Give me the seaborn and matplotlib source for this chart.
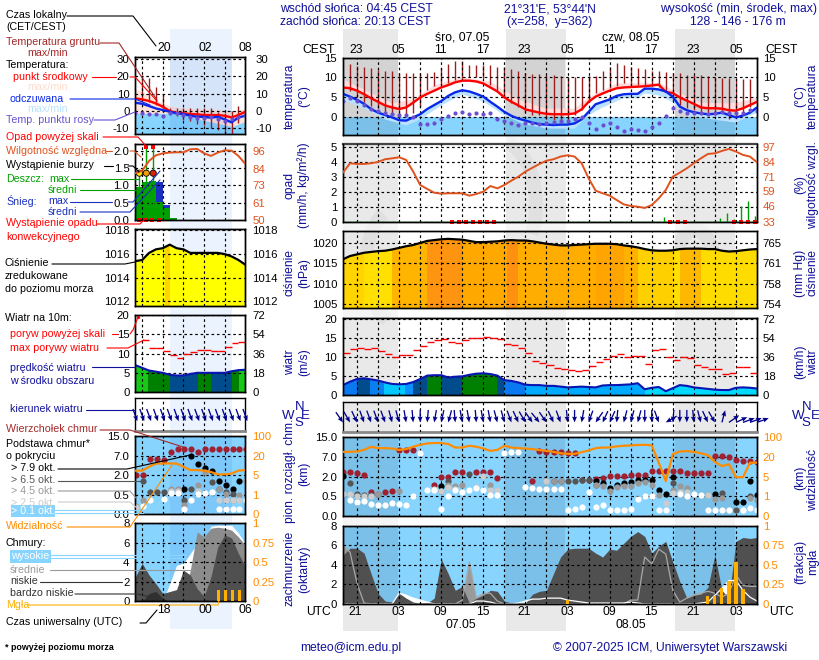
import numpy as np
import matplotlib
matplotlib.use('Agg')
import matplotlib.pyplot as plt
from matplotlib.lines import Line2D
from matplotlib.patches import Rectangle, Arc
import seaborn as sns

W, H = 820, 660
sns.set_theme(style='white', rc={'axes.edgecolor': 'black', 'axes.linewidth': 1.0,
                                 'grid.color': 'black', 'grid.linewidth': 0.8,
                                 'xtick.labelsize': 8.2, 'ytick.labelsize': 8.2})
plt.rcParams['font.family'] = ['Liberation Sans', 'DejaVu Sans']

# ---------- main meteogram data (hourly, hours since 06.05 00 UTC) ----------
hours = np.arange(19, 79)
t_mid = [7.5,7.3,6.7,5.8,4.8,3.9,3.0,2.5,2.1,2.5,3.7,5.0,5.9,6.7,7.5,8.1,8.8,9.2,9.2,9.0,8.5,7.5,6.5,5.0,3.9,3.0,2.0,1.6,1.2,0.9,
         0.8,0.8,0.8,1.0,2.0,3.9,5.2,6.0,6.7,7.3,7.5,7.6,7.7,7.8,8.0,8.2,6.4,6.1,5.0,4.2,3.4,2.5,2.3,2.3,2.2,1.8,1.7,2.3,3.1,3.9]
t_app = [5.9,5.2,4.4,3.4,2.1,1.2,0.6,0.0,-0.7,-0.8,0.0,0.8,2.1,3.1,4.1,5.4,6.3,6.8,6.5,5.9,5.2,3.9,2.7,1.4,0.4,-0.3,-0.8,-1.3,-1.7,-1.8,
         -1.9,-1.8,-1.8,-1.5,-0.5,1.4,3.3,3.9,4.5,5.4,5.8,5.9,5.9,7.2,7.2,7.0,6.5,5.2,2.7,1.8,1.3,1.0,0.8,0.9,1.2,0.6,0.0,0.5,1.2,2.5]
t_dew = [4.2,4.8,4.1,3.1,2.1,1.6,1.0,0.8,0.6,0.6,0.0,-1.6,-1.6,-1.3,-0.4,0.3,1.2,1.4,0.8,1.0,0.8,1.2,-0.4,-0.9,-1.5,-1.8,-1.3,-1.3,-1.6,-1.3,
         -1.1,-0.8,-0.8,-0.4,0.2,-1.3,-2.8,-1.9,-1.5,-2.4,-3.4,-2.8,-3.2,-3.4,-2.5,-1.3,0.4,2.3,1.5,1.2,1.2,1.0,0.8,1.0,1.4,1.2,1.0,1.2,1.8,1.7]
soil_hours = np.arange(20, 78)
soil_max = [13.4,12.9,12.7,12.3,11.9,11.7,11.5,11.2,11.1,11.1,11.1,11.1,11.3,12.3,13.4,14,14,13.2,13,13,13,12.7,12.5,12.1,11.7,11.2,10.9,10.8,10.6,10.5,
            10.4,10.2,10.1,10.1,10.4,10.4,11.5,12.7,13.7,13.1,12.7,12.3,12.1,11.7,11.6,11.3,11.1,11,10.7,10.6,10.5,10.4,10.1,9.9,9.8,9.8,9.6,9.6]
soil_min = [6.5,5.2,3.9,2.9,2.3,1.4,1,.6,.6,1,2.7,6.9,7.9,8.1,8.5,9.4,9.8,10.2,10.2,9.8,8.1,6.9,5.2,3.5,2.7,1.4,.6,.6,-.3,-.7,
            -1.1,-1.1,.6,1.8,3.9,6,6.9,7.3,7.9,8.5,7.9,8.1,8.1,7.9,7.5,6.5,4.4,3.1,2.3,1.8,1.4,.6,.6,1,-.3,.2,1.4,2.7]
pink_hours = [19,22,26,29,32,36,40,44,48,52,54,58,62,64,67,70,74,76,78]
pink_top = [9.5,7,3.5,4.5,8,10,9,4.5,2.2,2.2,5,8.5,8.6,8.6,6,3.7,3.5,4,5]
pale_hours = [19,22,25,28,30,33,36,39,42,45,48,52,54,56,59,61,62,64,66,68,72,75,78]
pale_low = [4.5,2.2,-.5,-2,-.5,3,5.8,4,.5,-1.8,-2.8,-2.8,.5,2.5,4.8,4.8,6,5.5,3.8,.5,-.6,-1.3,1.2]

rh_main = [74.8,82.8,82.2,82.2,82.8,83.9,86.2,87,87.9,85.6,75.7,64.3,60.9,57.7,56.9,57.2,57.2,57.2,55.2,56.6,58.6,63.4,61.4,64.3,68,71.4,75.7,79,82.2,85,
           86.2,88.5,89.6,88.5,82.8,70,59.4,57.2,55.2,51.5,47.8,46.4,45.8,44.7,47.2,52.9,60,71.4,74.8,78.5,82.8,87,90.7,91.3,93.3,95,92.7,89.9,88.5,83.6]
conv_hours = [34.6,35.5,36.5,37.5,38.5,39.5,40.5,65.6,66.7,67.7,74.7,75.7,76.7,77.7]
rain_hours = [64.7,65.7,72.7,73.7,74.7,75.7,76.7,77.7]
rain_max = [.28,.1,.27,.55,.2,1.07,1.4,.37]

press_main = [1016,1016.8,1017.2,1017.6,1017.8,1018,1018.1,1018.4,1018.8,1019.2,1019.5,1020,1020.5,1020.7,1020.9,1021,1020.9,1020.8,1020.5,1020.2,1020.2,1020.3,1020.4,1020.6,1020.7,1020.6,1020.6,1020.4,1020.1,1019.8,
              1019.6,1019.4,1019.4,1019.5,1019.6,1019.7,1019.8,1019.8,1019.8,1019.7,1019.4,1019.2,1018.9,1018.5,1018.2,1018.1,1018.1,1018.2,1018.5,1018.6,1018.6,1018.6,1018.5,1018.5,1018.1,1017.9,1018,1018.2,1018.4,1018.5]
press_edges = [19,22,26,31,36,42.4,44,55,59,61,66,67,70,78]
press_colors = ['#FFD400','#FFE000','#FFB400','#FF9410','#FFA800','#FF9010','#FFAD00','#FFA400','#FFB000','#FFD000','#FFE000','#FFB800','#FFDC00']

wind_main = [2.6,3.5,4.2,4.4,4.1,3.8,3.3,2.9,2.8,2.9,3.4,4.2,5.1,5.2,5.2,4.6,4.8,4.9,5.3,5.6,5.7,5.5,5.1,3.9,3.7,3.3,2.7,2.6,2.6,2.4,
             2.4,2.2,2,2.1,2.2,2.1,2,2.5,2.6,2.6,2.7,2.8,3.1,1.5,1.9,2.1,1,1.8,2.6,2.4,2,1.8,1.6,1.4,1.3,1.3,1.9,2,1.9,1.7]
gust_main = [11,12.2,12.3,12.1,12.3,11.5,10.8,10,10.5,10.5,11.8,12.9,13.9,14.4,14.7,14,13.7,14.4,14.9,15,15.2,14.9,14.8,13.5,13.1,12.4,11.1,9,8.5,7.8,
             7,6.9,6.5,6.3,6.5,7.6,8.7,9.4,10.3,10.7,10,10.2,10.2,8.2,11.8,12.2,10,9.3,10,9.7,7.8,7.3,6.8,6.8,5.6,5.8,7.4,7.4,5.8]
wind_edges = [19,21,22.9,24.9,27.9,29,31,33,36,41,42,45,62,78]
wind_colors = ['#0A78F0','#004C8C','#0A80F0','#00C8FF','#0A90FF','#004C8C','#008000','#004C8C','#008000','#004C8C','#0A78F0','#00AAFF','#00D8FF']
wind_dir = [325,330,335,340,340,340,340,345,345,350,355,0,5,10,12,15,355,350,350,355,350,350,345,345,340,335,330,325,320,325,
            335,340,355,0,10,20,35,25,25,5,15,15,15,0,0,340,60,5,0,0,355,345,335,330,195,235,245,250,250,250]

base_ticks = [0, 1, 2, 3, 4]
base_labels = ['0.0', '0.5', '2.0', '7.0', '15.0']
vis_labels = ['0', '1', '5', '20', '100']
top_h = [19,20,21,22,23,25,26,27,28,29,32,33,34,35,36,38,39,40,41,46,47,48,49,50,51,52,53,54,55,56,57,58,59,60,61,62,63,64,65,66,67,68,69,70,71,72,73,74,75,76,77,78]
top_v = [2.25,2.25,2.21,2.06,1.22,1.22,1.27,3.33,3.35,3.35,1.6,2.0,1.97,2.25,2.25,2.25,2.25,2.25,1.94,1.77,3.28,3.24,3.26,3.26,3.21,3.18,1.82,1.82,1.89,1.94,2.03,2.03,2.03,2.06,2.08,2.09,2.28,2.28,2.28,2.3,2.3,2.18,2.21,2.18,2.18,3.07,3.07,2.99,2.87,2.8,2.8,2.75]
c79_h = [19,33,55,56,57,58,59,60,61,62,63,64,65,66,72,75,76,77,78]
c79_v = [2.03,1.55,1.77,1.67,1.44,1.6,1.68,1.72,1.85,1.85,1.85,1.34,1.12,1.97,1.12,.72,.72,1.8,1.05]
c65_h = [20,21,22,23,24,34,37,49,50,51,52,53,54,55,66,73,77,75]
c65_v = [1.68,1.13,1.08,1.05,1.13,1.8,2.11,1.77,1.77,1.77,1.77,1.82,1.82,1.6,1.68,1.15,1.0,.29]
c45_h = [24,27,33,34,35,36,40,48,49,50,55,56,57,58,59,60,61,62,63,64,66,67,68,72,73,71,77,78]
c45_v = [1.13,1.25,1.29,1.6,1.51,1.56,1.58,1.77,1.77,1.77,1.6,1.51,1.29,1.48,1.55,1.55,1.68,1.72,1.6,1.08,1.34,1.51,1.42,.86,.91,1.05,.91,.82]
c25_h = [19,20,21,22,23,32,33,34,35,38,39,40,41,48,65,66,67,68,71,74,76]
c25_v = [1.12,1.1,1.03,1.03,1,1.37,1.25,1.48,1.37,1.48,2.03,1.3,1.3,1.77,.65,1.17,1.22,1.22,1.05,.29,.31]
c01_h = [20,21,22,23,24,25,26,27,28,29,30,31,32,33,34,35,36,37,38,39,40,41,42,43,44,45,46,47,48,49,50,51,52,53,54,55,56,57,58,59,60,61,62,63,64,65,67,68,69,70,71,72,73,74,76,77,78]
c01_v = [.79,.7,.74,.6,.58,.57,.65,.62,.57,1,3.19,1.3,1.3,.34,1.03,1.34,1.2,1.3,1.41,1.3,1.05,1.05,3.19,3.23,3.23,1.46,1.41,1.36,1.36,1.36,1.36,.31,.38,.48,1.2,.45,.55,.29,.29,.33,.36,.88,1,1,.31,.31,1.1,1.03,1.13,1.08,.31,.31,.31,.31,.31,.39,.31]
vis_main = [3.26,3.26,3.28,3.36,3.52,3.45,3.45,3.43,3.36,3.4,3.52,3.62,3.69,3.71,3.71,3.66,3.48,3.48,3.57,3.52,3.43,3.31,3.36,3.57,3.48,3.45,3.43,3.4,3.35,3.31,
            3.26,3.19,3.16,3.16,3.24,3.33,3.45,3.48,3.48,3.54,3.57,3.59,3.61,3.62,3.59,2.71,1.77,3.14,3.28,3.3,3.26,3.19,3.09,2.75,2.54,2.63,1.97,1.97,2.71,2.71]

cl_low = [5,5.7,5.7,5.2,3.1,1.1,.3,.2,1.1,.6,.2,.1,.1,.6,4.6,3.1,1.4,1.8,.1,.6,.9,1.4,1.3,.3,.1,.1,.1,1,1.3,1.4,
          3.1,4.8,5.6,5.7,5.7,5.7,5.2,4.8,5.6,5.5,6.2,6.9,7.4,6.9,5.2,5.9,6.4,4.3,2.3,.6,.9,1,1.7,5,1.4,.6,6.4,6.8,6.7,6.8]
cl_mid = [6,5.3,2.1,.1,0,0,0,0,0,0,0,0,0,0,0,0,0,.4,4.3,.6,1.1,1.1,.3,0,0,0,0,0,0,0,
          0,0,0,0,0,0,0,0,0,0,0,.4,.4,4.8,4.1,5.6,5.1,1.4,.2,.6,.9,1.1,1.3,1.1,.7,1.1,3,1.9,1.8,1.8]
cl_high = [0,0,0,0,0,0,0,0,1.1,.9,.6,.4,.2,0,0,0,0,0,0,.3,.3,.2,0,0,0,.1,.3,.5,.5,.6,
           .6,.6,.4,.3,.2,.1,.1,.1,.1,.1,.1,.2,.1,0,0,0,0,0,0,0,0,.1,.2,.9,1.6,2.4,2.4,1.4,.7,.3]
fog_hours = [51,71,72,73,74,75,76]
fog_frac = [.05,.1,.1,.2,.3,.54,.19]
night_main = [(343,398),(506,566),(675,735)]

# ---------- short-range (left) meteogram data ----------
h_left = np.arange(14, 31)
l_mid = [7.3,6.7,5.8,4.4,2.5,0,-1,-1.3,-1.7,-1.9,-2.3,-2.3,-2.3,-2.7,-3.7,-2.3,-.4]
l_app = [4.8,4.2,2.9,1.5,.6,-.4,-1.3,-1.7,-2.7,-3.3,-3.3,-3.8,-3.3,-4.8,-6.5,-3.7,-2.7]
l_dew = [-1.3,-1.3,-1.5,-1.9,-2.7,-1,-1.3,-2.3,-3.3,-3.8,-4.2,-3.7,-4.8,-5.6,-4.8,-3.3,-2.3]
l_soil_h = np.arange(15, 30)
l_soil_max = [20.8,18.8,13.7,9,2,1.5,2,1.5,1.7,2,1.7,-.6,-1,0,2.7]
l_soil_min = [6.3,5.4,3.5,2,-1.7,-3,-5,-5.5,-7.7,-8,-10,-11,-12.5,-13,-7]
l_pink_h = [14,16,18,20,22,24,26,28,30]
l_pink_top = [13,9,4.4,2,1.5,1,1,-.4,1.5]
l_pink_bot = [-1.3,-1.3,-1.3,-1.3,-3.3,-5.5,-7,-9,-6]
l_rh = [81,82.7,89.2,92.9,94.2,94.7,94.9,94.9,96.9,97.1,94.2,92.5,94.7,96.2,96,92.5,87.2]
l_rain_h = [14,15,16,17,18,19]
l_rain = [.94,1.11,1.13,.53,.34,.07]
l_snow_h = [17,18]
l_snow = [1.11,.43]
l_press = [1015.4,1015.5,1016.1,1016.4,1016.5,1016.8,1016.5,1016.4,1016.1,1016.1,1016.1,1016.1,1016.1,1016,1015.8,1015.5,1015.1]
l_wind = [7,6.3,5.6,5.3,5,4.5,4.3,4.3,4.7,5,5,5,5,5,5.4,5.7,5.8]
l_wind_edges = [14,15.9,19,23.1,25,28.1,29.1,30]
l_wind_colors = ['#18C818','#008000','#004C8C','#008000','#004C8C','#008000','#18C818']
l_gust_h = np.arange(15, 30)
l_gust = [13.5,11.6,11.6,10.6,9.6,8.8,9.8,10.5,10.9,10.9,10.7,10.7,11.7,12.9,13]
l_top_h = h_left
l_top_v = [2.01,2.01,2.84,2.84,2.77,3.2,3.32,3.32,3.32,3.2,3.32,3.32,3.32,3.32,3.32,3.32,3.32]
l79_h = [21,22,23,24,25,26,27,28,29]
l79_v = [1.29,2.98,2.57,2.35,2.23,1.7,1.5,1.29,1.7]
l65_h = [15,16,17,18,21,22,25,26,27,28]
l65_v = [1.7,1.14,1.14,1.14,.73,1.28,1.67,1.29,1.16,1.04]
l45_h = [14,15,19,20,21,23,24,26,27,28,29,30]
l45_v = [.43,.73,1.28,1.28,.48,1.5,2.18,1.28,1.04,.73,.99,1.7]
l25_h = [14,19,20,23,25,26,27,28,29]
l25_v = [.39,1.21,1.21,1.21,1.16,.73,.73,.73,.73]
l01_h = [15,16,18,19,20,21,22,23,24,25,26,27,28,29,30]
l01_v = [.43,.73,.77,1.07,1.11,.26,.73,1.04,1.11,1.16,.26,.26,.26,.26,.73]
l_vis = [2.23,2.23,2.43,2.59,2.59,2.6,2.59,2.43,2.26,2.26,2.23,2.16,2.04,2.04,2.08,2.23,2.26]
l_high = [0,0,0,0,0,1.8,3.7,3.9,4.9,5.9,5.9,7.7,7.8,7.8,7.8,7,5.9]
l_medium = [0,0,0,0,0,0,0,0,3.2,7.1,6.6,7.5,7.6,7.5,7.3,6.6,5.8]
l_low = [2.5,3.9,2.7,1.8,.8,1,1.2,3.2,2.7,1.3,.5,2.5,5.6,6.8,6.5,4.9,3.6]
l_vlow = [0,0,.8,1,.3,0,0,0,0,0,0,0,0,0,0,0,0]
l_fog_h = [26.1,27.1,28.1,29.1]
l_fog = [.145,.145,.145,.145]

BLUE_BG = '#87D4FF'
RED = '#FF0000'; LBLUE = '#0A28E8'; DEW = '#6A50D0'; RHC = '#E0521E'; ORNG = '#FF8C00'
SOIL = '#A01C1C'; NAVY = '#10109A'; CTOP = '#A02030'; GREEN = '#00A000'; FOG = '#FFB000'
DOT_COL = ['#A02030', '#000000', '#555555', '#999999', '#CCCCCC', '#FFFFFF']

fig = plt.figure(figsize=(W / 100, H / 100), dpi=100, facecolor='white')

def axes_px(x0, x1, y0, y1, xlim, ylim, yticks, ylabels, xticks, color='black'):
    ax = fig.add_axes([x0 / W, 1 - y1 / H, (x1 - x0) / W, (y1 - y0) / H])
    ax.patch.set_visible(False)
    ax.set_xlim(xlim); ax.set_ylim(ylim)
    ax.set_xticks(xticks); ax.set_xticklabels([])
    ax.set_yticks(yticks); ax.set_yticklabels(ylabels, color=color)
    ax.tick_params(length=0, pad=4.2)
    ax.grid(True, linestyle=(0, (2.2, 2.4)), linewidth=0.85, color='black')
    ax.set_axisbelow(False)
    return ax

def right_axis(ax, ylim, ticks, labels, color='black', pad=4.2):
    tw = ax.twinx()
    tw.patch.set_visible(False)
    tw.set_ylim(ylim)
    tw.set_yticks(ticks); tw.set_yticklabels(labels, color=color)
    tw.tick_params(length=0, pad=pad)
    tw.grid(False)
    return tw

def strips(ax, x, y, y0, edges, colors, z=1.2):
    poly = ax.fill_between(x, y, y0, color='none', linewidth=0)
    path = poly.get_paths()[0]
    for a, b, c in zip(edges[:-1], edges[1:], colors):
        r = ax.axvspan(a, b, color=c, linewidth=0, zorder=z)
        r.set_clip_path(path, ax.transData)

def line(ax, x, y, color, lw, z=3):
    sns.lineplot(x=list(x), y=list(y), ax=ax, color=color, linewidth=lw, zorder=z,
                 legend=False, errorbar=None, estimator=None, sort=False)
    ax.set_xlabel(''); ax.set_ylabel('')

def dots(ax, x, y, color, s=20, z=3.2):
    sns.scatterplot(x=list(x), y=list(y), ax=ax, color=color, s=s, linewidth=0, zorder=z, legend=False)
    ax.set_xlabel(''); ax.set_ylabel('')

def arrows(ax, x, y, directions, L, pivot):
    d = np.radians(directions)
    ax.quiver(x, y, -L * np.sin(d), -L * np.cos(d), units='dots', scale_units='dots', scale=1,
              angles='uv', width=1.3, headwidth=3.8, headlength=4.5, headaxislength=4,
              color='#00008B', pivot=pivot, clip_on=False, zorder=4)

def band(ax, tint, spans, alpha):
    for a, b in spans:
        ax.axvspan(a, b, color=tint, alpha=alpha, linewidth=0, zorder=1.5)

def T(x, y, s, color='black', ha='left', size=8.7, **kw):
    fig.text(x / W, 1 - y / H, s, color=color, ha=ha, va='center', fontsize=size, zorder=12, **kw)

LS = 7.7
def G(x, y, s, color='black'):
    T(x, y, s, color, size=LS)

def L(color, *pts, lw=0.8):
    xs = [p[0] / W for p in pts]; ys = [1 - p[1] / H for p in pts]
    fig.add_artist(Line2D(xs, ys, color=color, lw=lw, zorder=11, transform=fig.transFigure))

# background bands
for a, b in night_main:
    fig.add_artist(Rectangle((a / W, 1 - 631 / H), (b - a) / W, 602 / H, color='#E9E9E9', lw=0,
                             transform=fig.transFigure, zorder=-3))
fig.add_artist(Rectangle((170 / W, 1 - 629 / H), 61.7 / W, 600 / H, color='#EBF3FE', lw=0,
                         transform=fig.transFigure, zorder=-3))
# faint logo watermark behind the main column
for cx, cy, w, h, a, b in [(402, 265, 72, 120, 110, 255), (497, 205, 78, 130, -40, 80), (695, 285, 46, 110, 0, 180)]:
    p = Arc((cx, H - cy), w, h, theta1=a, theta2=b, lw=10, color='black', alpha=0.035,
            transform=None, zorder=-2)
    fig.add_artist(p)
    p.set_transform(fig.dpi_scale_trans.inverted() + fig.dpi_scale_trans)
# panel gaps are paler inside the bands
for g0, g1 in [(135, 144), (221.7, 230.7), (308.3, 317.7), (395, 401.7), (431.7, 437.3), (516, 525.7)]:
    fig.add_artist(Rectangle((343 / W, 1 - g1 / H), 414 / W, (g1 - g0) / H, color='white', alpha=0.55, lw=0,
                             transform=fig.transFigure, zorder=-1))

# ============ main column ============
MX0, MX1 = 343, 757
mxlim = (19, 78)
mticks = list(range(21, 78, 3))
night_h = [(19, 26.85), (42.15, 50.7), (66.25, 74.8)]

# temperature
ax = axes_px(MX0, MX1, 57.5, 135, mxlim, (-4.4, 15), [0, 5, 10, 15], ['0', '5', '10', '15'], mticks)
ax.axhspan(-4.4, 0, color=BLUE_BG, linewidth=0, zorder=1)
band(ax, 'black', night_h, 0.09)
ax.fill(np.r_[hours, np.array(pink_hours)[::-1]], np.r_[t_mid, np.array(pink_top)[::-1]], color='#FFDCDC', lw=0, zorder=1.7)
ax.fill(np.r_[hours, np.array(pale_hours)[::-1]], np.r_[t_app, np.array(pale_low)[::-1]], color='#B8E2FF', lw=0, zorder=1.7)
ax.vlines(soil_hours, soil_min, soil_max, color=SOIL, lw=1.0, zorder=2.2)
dots(ax, hours, t_dew, DEW, s=9)
line(ax, hours, t_mid, RED, 1.7)
line(ax, hours, t_app, LBLUE, 1.7)
right_axis(ax, (-4.4, 15), [0, 5, 10, 15], ['0', '5', '10', '15'])

# precipitation & humidity
ax = axes_px(MX0, MX1, 144, 221.7, mxlim, (0, 5.17), [0, 1, 2, 3, 4, 5], list('012345'), mticks)
ax.spines['top'].set_linewidth(1.6); ax.spines['top'].set_color('#444444')
ax.vlines(rain_hours, 0, rain_max, color=GREEN, lw=1.0, zorder=3)
ax.axhline(0, color=GREEN, lw=1, zorder=2.8)
ax.scatter(conv_hours, [0] * len(conv_hours), marker='s', s=5, color=RED, zorder=4, clip_on=False, linewidths=0)
tw = right_axis(ax, (33, 99.2), [33, 46, 59, 71, 84, 97], ['33', '46', '59', '71', '84', '97'], RHC)
tw.spines['top'].set_visible(False)
line(tw, hours, rh_main, RHC, 1.4)

# pressure
pt = [1005, 1010, 1015, 1020]
ax = axes_px(MX0, MX1, 230.7, 308.3, mxlim, (1004, 1023), pt, ['1005', '1010', '1015', '1020'], mticks)
strips(ax, hours, press_main, 1004, press_edges, press_colors)
line(ax, hours, press_main, 'black', 1.6)
right_axis(ax, (1004, 1023), pt, ['754', '758', '761', '765'])

# wind
wt = [0, 5, 10, 15, 20]
ax = axes_px(MX0, MX1, 317.7, 395, mxlim, (0, 20.3), wt, ['0', '5', '10', '15', '20'], mticks)
strips(ax, hours, wind_main, 0, wind_edges, wind_colors)
line(ax, hours, wind_main, '#0A14B0', 1.5)
ax.hlines(gust_main, hours[:-1], hours[:-1] + 1, color=RED, lw=1.0, zorder=3)
right_axis(ax, (0, 20.3), wt, ['0', '18', '36', '54', '72'])

# wind direction
ax = axes_px(MX0, MX1, 401.7, 431.7, mxlim, (0, 1), [], [], mticks)
ax.spines['bottom'].set_color('#888888'); ax.spines['bottom'].set_linewidth(2)
wd = np.array(wind_dir, float)
north = np.cos(np.radians(wd)) >= 0
arrows(ax, hours[north], np.full(north.sum(), 0.31), wd[north], 12.5, 'tip')
arrows(ax, hours[~north], np.full((~north).sum(), 0.31), wd[~north], 12.5, 'tail')

# cloud base
ax = axes_px(MX0, MX1, 437.3, 516, mxlim, (0, 4), base_ticks, base_labels, mticks)
ax.axhspan(0, 4, color=BLUE_BG, linewidth=0, zorder=1)
band(ax, 'black', night_h, 0.09)
for (h, v), c in zip([(top_h, top_v), (c79_h, c79_v), (c65_h, c65_v), (c45_h, c45_v), (c25_h, c25_v), (c01_h, c01_v)], DOT_COL):
    dots(ax, h, v, c)
tw = right_axis(ax, (0, 4), base_ticks, vis_labels, ORNG)
line(tw, hours, vis_main, ORNG, 1.6)

# cloud cover
ct = [0, 2, 4, 6, 8]
ax = axes_px(MX0, MX1, 525.7, 604, mxlim, (0, 8), ct, ['0', '2', '4', '6', '8'], mticks)
ax.axhspan(0, 8, color=BLUE_BG, linewidth=0, zorder=1)
band(ax, 'black', night_h, 0.09)
ax.fill_between(hours, cl_high, 0, color='white', linewidth=0, zorder=1.7)
ax.fill_between(hours, cl_mid, 0, color='#9A9A9A', linewidth=0, zorder=1.8)
ax.fill_between(hours, cl_low, 0, color='#505050', linewidth=0, zorder=1.9)
line(ax, hours, cl_mid, '#A8A8A8', 0.9, z=2.1)
line(ax, hours, cl_high, 'white', 0.9, z=2.2)
tw = right_axis(ax, (0, 1), [0, .25, .5, .75, 1], ['0', '0.25', '0.5', '0.75', '1'], ORNG)
tw.bar(fog_hours, fog_frac, width=0.45, color=FOG, linewidth=0, zorder=3)

# ============ left column ============
LX0, LX1 = 135.3, 245.3
lxlim = (14, 30)
lticks = [15, 18, 21, 24, 27]
lband = [(19.1, 28.1)]
LT = '#2060E0'

tt = [-10, 0, 10, 20, 30]
ax = axes_px(LX0, LX1, 57.3, 134.3, lxlim, (-13.4, 31), tt, ['-10', '0', '10', '20', '30'], lticks)
ax.axhspan(-13.4, 0, color=BLUE_BG, linewidth=0, zorder=1)
ax.fill_between(l_pink_h, l_pink_top, l_pink_bot, color='#FFE2D8', linewidth=0, zorder=1.3)
band(ax, LT, lband, 0.1)
ax.vlines(l_soil_h, l_soil_min, l_soil_max, color=SOIL, lw=1.0, zorder=2.2)
dots(ax, h_left, l_dew, DEW, s=9)
line(ax, h_left, l_mid, RED, 1.7)
line(ax, h_left, l_app, LBLUE, 1.7)
right_axis(ax, (-13.4, 31), tt, ['-10', '0', '10', '20', '30'], pad=7)

pr = [0, .5, 1, 1.5, 2]
ax = axes_px(LX0, LX1, 143.7, 220, lxlim, (0, 2.2), pr, ['0.0', '0.5', '1.0', '1.5', '2.0'], lticks)
ax.bar(l_snow_h, l_snow, width=1, align='edge', color='#1A30C0', linewidth=0, zorder=1.5)
ax.bar(l_rain_h, l_rain, width=1, align='edge', color=GREEN, linewidth=0, zorder=1.6)
ax.vlines([14.6, 15.6, 16.6], [0, 0, 0], [1.35, 2.1, 2.1], color=GREEN, lw=1.0, zorder=3)
ax.scatter([14.6, 15.6, 16.6], [1.35] * 3, s=20, c=['#FFE000', '#F0A000', '#E02000'], edgecolors='black', linewidths=0.6, zorder=4)
ax.scatter([15.6, 16.6], [2.1, 2.1], marker='s', s=7, color=RED, linewidths=0, zorder=4)
ax.scatter([14.5, 15.5, 16.5, 17.5], [0] * 4, marker='s', s=5, color=RED, linewidths=0, zorder=4, clip_on=False)
tw = right_axis(ax, (50, 100.6), [50, 61, 73, 84, 96], ['50', '61', '73', '84', '96'], RHC, pad=5)
line(tw, h_left, l_rh, RHC, 1.4)

lp = [1012, 1014, 1016, 1018]
ax = axes_px(LX0, LX1, 229.3, 306, lxlim, (1011.6, 1018.1), lp, ['1012', '1014', '1016', '1018'], lticks)
strips(ax, h_left, l_press, 1011.6, [14, 18.3, 19, 30], ['#FFFF00', '#FFD400', '#FFFF00'])
line(ax, h_left, l_press, 'black', 1.6)
right_axis(ax, (1011.6, 1018.1), lp, ['1012', '1014', '1016', '1018'], pad=5)

ax = axes_px(LX0, LX1, 315.3, 392, lxlim, (0, 20), wt, ['0', '5', '10', '15', '20'], lticks)
strips(ax, h_left, l_wind, 0, l_wind_edges, l_wind_colors)
line(ax, h_left, l_wind, '#0A14B0', 1.5)
ax.hlines(l_gust, l_gust_h, l_gust_h + 1, color=RED, lw=1.0, zorder=3)
ax.scatter([14.45], [19.6], s=6, color=RED, linewidths=0, zorder=4)
right_axis(ax, (0, 20), wt, ['0', '18', '36', '54', '72'], pad=5)

ax = axes_px(LX0, LX1, 398.3, 431, lxlim, (0, 1), [], [], lticks)
ax.spines['bottom'].set_color('#888888'); ax.spines['bottom'].set_linewidth(2)
l_dirs = [340] * 17
arrows(ax, h_left + 0.3, np.full(17, 0.3), np.array(l_dirs, float), 13, 'tip')

ax = axes_px(LX0, LX1, 436, 514.3, lxlim, (0, 4), base_ticks, base_labels, lticks)
ax.axhspan(0, 4, color=BLUE_BG, linewidth=0, zorder=1)
band(ax, LT, lband, 0.1)
for (h, v), c in zip([(l_top_h, l_top_v), (l79_h, l79_v), (l65_h, l65_v), (l45_h, l45_v), (l25_h, l25_v), (l01_h, l01_v)], DOT_COL):
    dots(ax, np.array(h) + 0.15, v, c)
tw = right_axis(ax, (0, 4), base_ticks, vis_labels, ORNG, pad=5)
line(tw, h_left, l_vis, ORNG, 1.6)

ax = axes_px(LX0, LX1, 523.3, 601.3, lxlim, (0, 8), ct, ['0', '2', '4', '6', '8'], lticks)
ax.axhspan(0, 8, color=BLUE_BG, linewidth=0, zorder=1)
band(ax, LT, lband, 0.1)
ax.fill_between(h_left, l_high, 0, color='white', linewidth=0, zorder=1.7)
ax.fill_between(h_left, l_medium, 0, color='#8C8C8C', linewidth=0, zorder=1.8)
ax.fill_between(h_left, l_low, 0, color='#505050', linewidth=0, zorder=1.9)
ax.fill_between(h_left, l_vlow, 0, color='#303030', linewidth=0, zorder=1.95)
tw = right_axis(ax, (0, 1), [0, .25, .5, .75, 1], ['0', '0.25', '0.5', '0.75', '1'], ORNG, pad=5)
tw.bar(l_fog_h, l_fog, width=0.45, color=FOG, linewidth=0, zorder=3)

# ============ header & footer text ============
T(280, 9, 'wschód słońca: 04:45 CEST', NAVY)
T(280, 22, 'zachód słońca: 20:13 CEST', NAVY)
T(550, 9, "21°31'E, 53°44'N", NAVY, ha='center')
T(550, 22, '(x=258,  y=362)', NAVY, ha='center')
T(817, 9, 'wysokość (min, środek, max)', NAVY, ha='right')
T(738, 22, '128 - 146 - 176 m', NAVY, ha='center')
T(462, 37, 'śro, 07.05', ha='center')
T(631, 37, 'czw, 08.05', ha='center')
T(319, 50, 'CEST', ha='center'); T(782, 50, 'CEST', ha='center')
for x, s in zip([356, 398, 440, 483, 524, 567, 609, 651, 693, 736], ['23', '05', '11', '17'] * 2 + ['23', '05']):
    T(x, 50, s, ha='center')
for x, s in zip([355, 398, 440, 483, 524, 567, 609, 651, 693, 736], ['21', '03', '09', '15'] * 2 + ['21', '03']):
    T(x, 612, s, ha='center')
T(319, 612, 'UTC', ha='center'); T(782, 612, 'UTC', ha='center')
T(461, 625, '07.05', ha='center'); T(631, 625, '08.05', ha='center')
T(300, 648, 'meteo@icm.edu.pl', NAVY)
T(553, 648, '© 2007-2025 ICM, Uniwersytet Warszawski', NAVY)
T(5, 648, '* powyżej poziomu morza', size=6.4, fontweight='bold')

for x, y, s in [(290, 96, 'temperatura'), (304, 96, '(°C)'), (290, 185, 'opad'), (304, 185, '(mm/h, kg/m²/h)'),
                (290, 273, 'ciśnienie'), (304, 273, '(hPa)'), (290, 362, 'wiatr'), (304, 362, '(m/s)'),
                (290, 471, 'pion. rozciągł. chm.'), (304, 474, '(km)'), (290, 568, 'zachmurzenie'), (304, 569, '(oktanty)'),
                (813, 96, 'temperatura'), (800, 96, '(°C)'), (813, 185, 'wilgotność wzgl.'), (800, 185, '(%)'),
                (813, 273, 'ciśnienie'), (800, 273, '(mm Hg)'), (813, 362, 'wiatr'), (800, 362, '(km/h)'),
                (813, 480, 'widzialność'), (800, 478, '(km)'), (813, 562, 'mgła'), (800, 562, '(frakcja)')]:
    T(x, y, s, NAVY, ha='center', rotation=90)
for x, y, s in [(288, 416, 'W'), (300, 407, 'N'), (305, 416, 'E'), (299, 423, 'S'),
                (798, 416, 'W'), (807, 407, 'N'), (815, 416, 'E'), (806, 423, 'S')]:
    T(x, y, s, NAVY, ha='center', size=9.5)

T(164, 48, '20', ha='center'); T(205, 48, '02', ha='center'); T(245, 48, '08', ha='center')
T(164, 610, '18', ha='center'); T(205, 610, '00', ha='center'); T(245, 610, '06', ha='center')

# ============ left legend ============
PK = '#FFDCCC'; PB = '#B8E2FF'; BR = '#A52828'
G(6, 15, 'Czas lokalny'); G(6, 27, '(CET/CEST)')
L('black', (67, 16), (133, 16), (156, 46))
G(6, 42, 'Temperatura gruntu', BR); G(27, 53, 'max/min', BR)
L(BR, (100, 43), (119, 43), (157, 100))
G(6, 65, 'Temperatura:')
G(13, 77, 'punkt środkowy', RED); G(27, 87, 'max/min', PK)
L(RED, (92, 77), (116, 77)); L(RED, (130, 77), (135, 77), (157, 101))
G(10, 99, 'odczuwana', LBLUE); G(27, 109, 'max/min', PB)
L(LBLUE, (70, 99), (135, 99), (150, 105))
G(6, 120, 'Temp. punktu rosy', DEW)
L(DEW, (94, 120), (115, 120), (135, 112))
G(6, 137, 'Opad powyżej skali', RED)
L(RED, (103, 137), (138, 137), (146, 146))
G(6, 151, 'Wilgotność względna', RHC)
L(RHC, (106, 151), (112, 151)); L(RHC, (130, 151), (134, 151), (141, 157))
G(6, 165, 'Wystąpienie burzy')
L('black', (104, 166), (113, 166)); L('black', (128, 166), (133, 166), (139, 172))
G(6, 179, 'Deszcz:', GREEN); G(49, 179, 'max', GREEN)
L(GREEN, (71, 179), (139, 179))
G(48, 190, 'średni', GREEN)
L(GREEN, (80, 190), (145, 190))
G(6, 201, 'Śnieg:', '#1A30C0'); G(48, 201, 'max', '#1A30C0')
L('#1A30C0', (70, 202), (112, 202)); L('#1A30C0', (128, 202), (133, 202), (160, 171))
G(48, 212, 'średni', '#1A30C0')
L('#1A30C0', (80, 212), (130, 212), (160, 180))
G(6, 223, 'Wystąpienie opadu', RED); G(6, 237, 'konwekcyjnego', RED)
L(RED, (97, 224), (140, 224), (146, 218))
G(5, 263, 'Ciśnienie'); G(5, 276, 'zredukowane'); G(5, 289, 'do poziomu morza')
L('black', (52, 264), (125, 264), (135, 262))
G(5, 318, 'Wiatr na 10m:')
G(10, 334, 'poryw powyżej skali', RED)
L(RED, (112, 334), (118, 334)); L(RED, (130, 334), (133, 330), (138, 317))
G(10, 348, 'max porywy wiatru', RED)
L(RED, (107, 348), (128, 348), (144, 340))
G(10, 368, 'prędkość wiatru', NAVY); G(10, 381, 'w środku obszaru', NAVY)
L(NAVY, (92, 367), (135, 367))
G(10, 409, 'kierunek wiatru', NAVY)
L(NAVY, (86, 410), (135, 410))
G(6, 429, 'Wierzchołek chmur', BR)
L(BR, (100, 430), (130, 430), (183, 447))
G(6, 444, 'Podstawa chmur*'); G(6, 456, 'o pokryciu')
G(11, 468, '> 7.9 okt.')
L('black', (58, 469), (127, 469), (190, 455))
G(11, 480, '> 6.5 okt.', '#555555')
L('#555555', (58, 481), (143, 481))
G(11, 491, '> 4.5 okt.', '#999999')
L('#999999', (58, 491), (130, 491), (136, 498))
G(11, 503, '> 2.5 okt.', '#CCCCCC')
L('#CCCCCC', (58, 502), (130, 502), (137, 508))
fig.add_artist(Rectangle((11 / W, 1 - 517 / H), 44 / W, 12 / H, color=BLUE_BG, lw=0, transform=fig.transFigure, zorder=10))
G(11, 511, '> 0.1 okt.', 'white')
L(BLUE_BG, (55, 510), (143, 510)); L(BLUE_BG, (55, 513), (143, 513))
G(6, 526, 'Widzialność', ORNG)
L(ORNG, (67, 527), (130, 527), (172, 465))
G(6, 543, 'Chmury:')
fig.add_artist(Rectangle((10 / W, 1 - 563 / H), 41 / W, 13 / H, color=BLUE_BG, lw=0, transform=fig.transFigure, zorder=10))
G(11, 556, 'wysokie', 'white')
L(BLUE_BG, (51, 555), (186, 555)); L(BLUE_BG, (51, 558), (186, 558))
G(10, 570, 'średnie', '#999999')
L('#999999', (50, 570), (193, 570))
G(10, 581, 'niskie', '#333333')
L('#333333', (40, 582), (122, 582))
G(10, 593, 'bardzo niskie', '#333333')
L('#333333', (75, 594), (138, 594), (150, 597))
G(6, 605, 'Mgła', FOG)
L(FOG, (27, 605), (218, 605), (219, 600))
G(6, 622, 'Czas uniwersalny (UTC)')
L('black', (140, 623), (146, 623), (157, 610))

fig.savefig('out.png', dpi=100)
